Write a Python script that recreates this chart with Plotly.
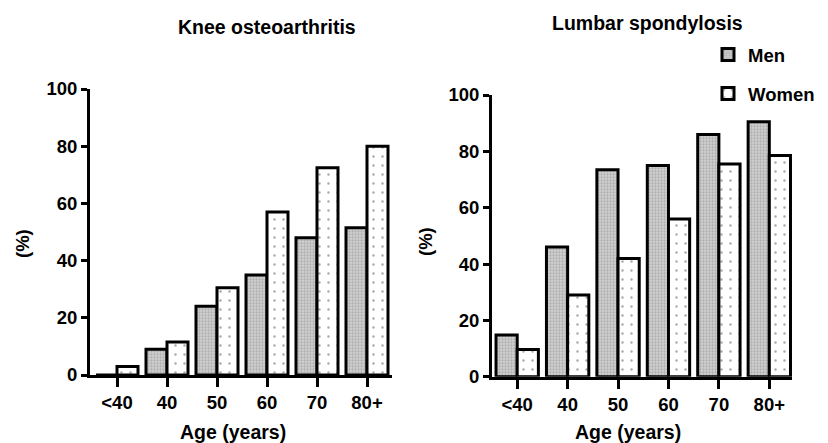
import plotly.graph_objects as go

ages = ["<40", "40", "50", "60", "70", "80+"]
knee_men = [0, 9, 24, 35, 48, 51.5]
knee_women = [3, 11.5, 30.5, 57, 72.5, 80]
lumbar_men = [14.8, 46, 73.5, 75, 86, 90.5]
lumbar_women = [9.7, 29, 42, 56, 75.5, 78.5]
y_ticks = [0, 20, 40, 60, 80, 100]

FONT = "Liberation Sans, Arial, Helvetica, sans-serif"
W, H = 828, 443
OFF = 8  # page body margin


def px(x):
    return (x - OFF) / W


def py(y):
    return 1 - (y - OFF) / H


men_marker = dict(
    color="#c4c4c4",
    line=dict(color="black", width=3),
    pattern=dict(shape=".", fgcolor="#8c8c8c", bgcolor="#d2d2d2", size=3, solidity=0.45),
)
women_marker = dict(
    color="white",
    line=dict(color="black", width=3),
    pattern=dict(shape=".", fgcolor="#555555", bgcolor="white", size=9, solidity=0.06),
)

fig = go.Figure()
fig.add_trace(go.Bar(x=ages, y=knee_men, name="Men", marker=men_marker,
                     xaxis="x", yaxis="y", legendgroup="m"))
fig.add_trace(go.Bar(x=ages, y=knee_women, name="Women", marker=women_marker,
                     xaxis="x", yaxis="y", legendgroup="w"))
fig.add_trace(go.Bar(x=ages, y=lumbar_men, name="Men", marker=men_marker,
                     xaxis="x2", yaxis="y2", showlegend=False))
fig.add_trace(go.Bar(x=ages, y=lumbar_women, name="Women", marker=women_marker,
                     xaxis="x2", yaxis="y2", showlegend=False))

tickfont = dict(family=FONT, size=18.5, color="black", weight="bold")
xcommon = dict(
    type="category", showline=True, linecolor="black", linewidth=3,
    ticks="outside", ticklen=9, tickwidth=2.5, tickcolor="black",
    showgrid=False, zeroline=False, tickfont=tickfont,
)
ycommon = dict(
    range=[0, 100], tickvals=y_ticks, showline=True, linecolor="black", linewidth=3,
    ticks="outside", ticklen=6, tickwidth=2.5, tickcolor="black",
    showgrid=False, zeroline=False, tickfont=tickfont,
)

fig.update_layout(
    width=W, height=H,
    margin=dict(l=0, r=0, t=0, b=0, autoexpand=False),
    paper_bgcolor="white", plot_bgcolor="white",
    barmode="group", bargap=0.16, bargroupgap=0,
    font=dict(family=FONT, color="black"),
    xaxis=dict(xcommon, domain=[px(90), px(392)], range=[-0.54, 5.5], anchor="y"),
    yaxis=dict(ycommon, domain=[py(375), py(89)], anchor="x"),
    xaxis2=dict(xcommon, domain=[px(492), px(792)], range=[-0.5, 5.45], anchor="y2"),
    yaxis2=dict(ycommon, domain=[py(376.7), py(95)], anchor="x2"),
    legend=dict(
        x=px(708), y=py(36), xanchor="left", yanchor="top",
        font=dict(family=FONT, size=18.5, color="black", weight="bold"),
        tracegroupgap=12, bgcolor="rgba(0,0,0,0)",
    ),
    showlegend=True,
)

ann = [
    dict(text="Knee osteoarthritis", x=px(267), y=py(27), size=19.5),
    dict(text="Lumbar spondylosis", x=px(647), y=py(23), size=19.5),
    dict(text="Age (years)", x=px(233), y=py(432), size=19.5),
    dict(text="Age (years)", x=px(628), y=py(432), size=19.5),
    dict(text="(%)", x=px(22), y=py(243), textangle=-90, size=18.5),
    dict(text="(%)", x=px(425), y=py(242), textangle=-90, size=18.5),
]
for a in ann:
    s = a.pop("size")
    a.update(xref="paper", yref="paper", showarrow=False, xanchor="center", yanchor="middle",
             font=dict(family=FONT, size=s, color="black", weight="bold"))
fig.update_layout(annotations=ann)

fig.write_html("out.html")
